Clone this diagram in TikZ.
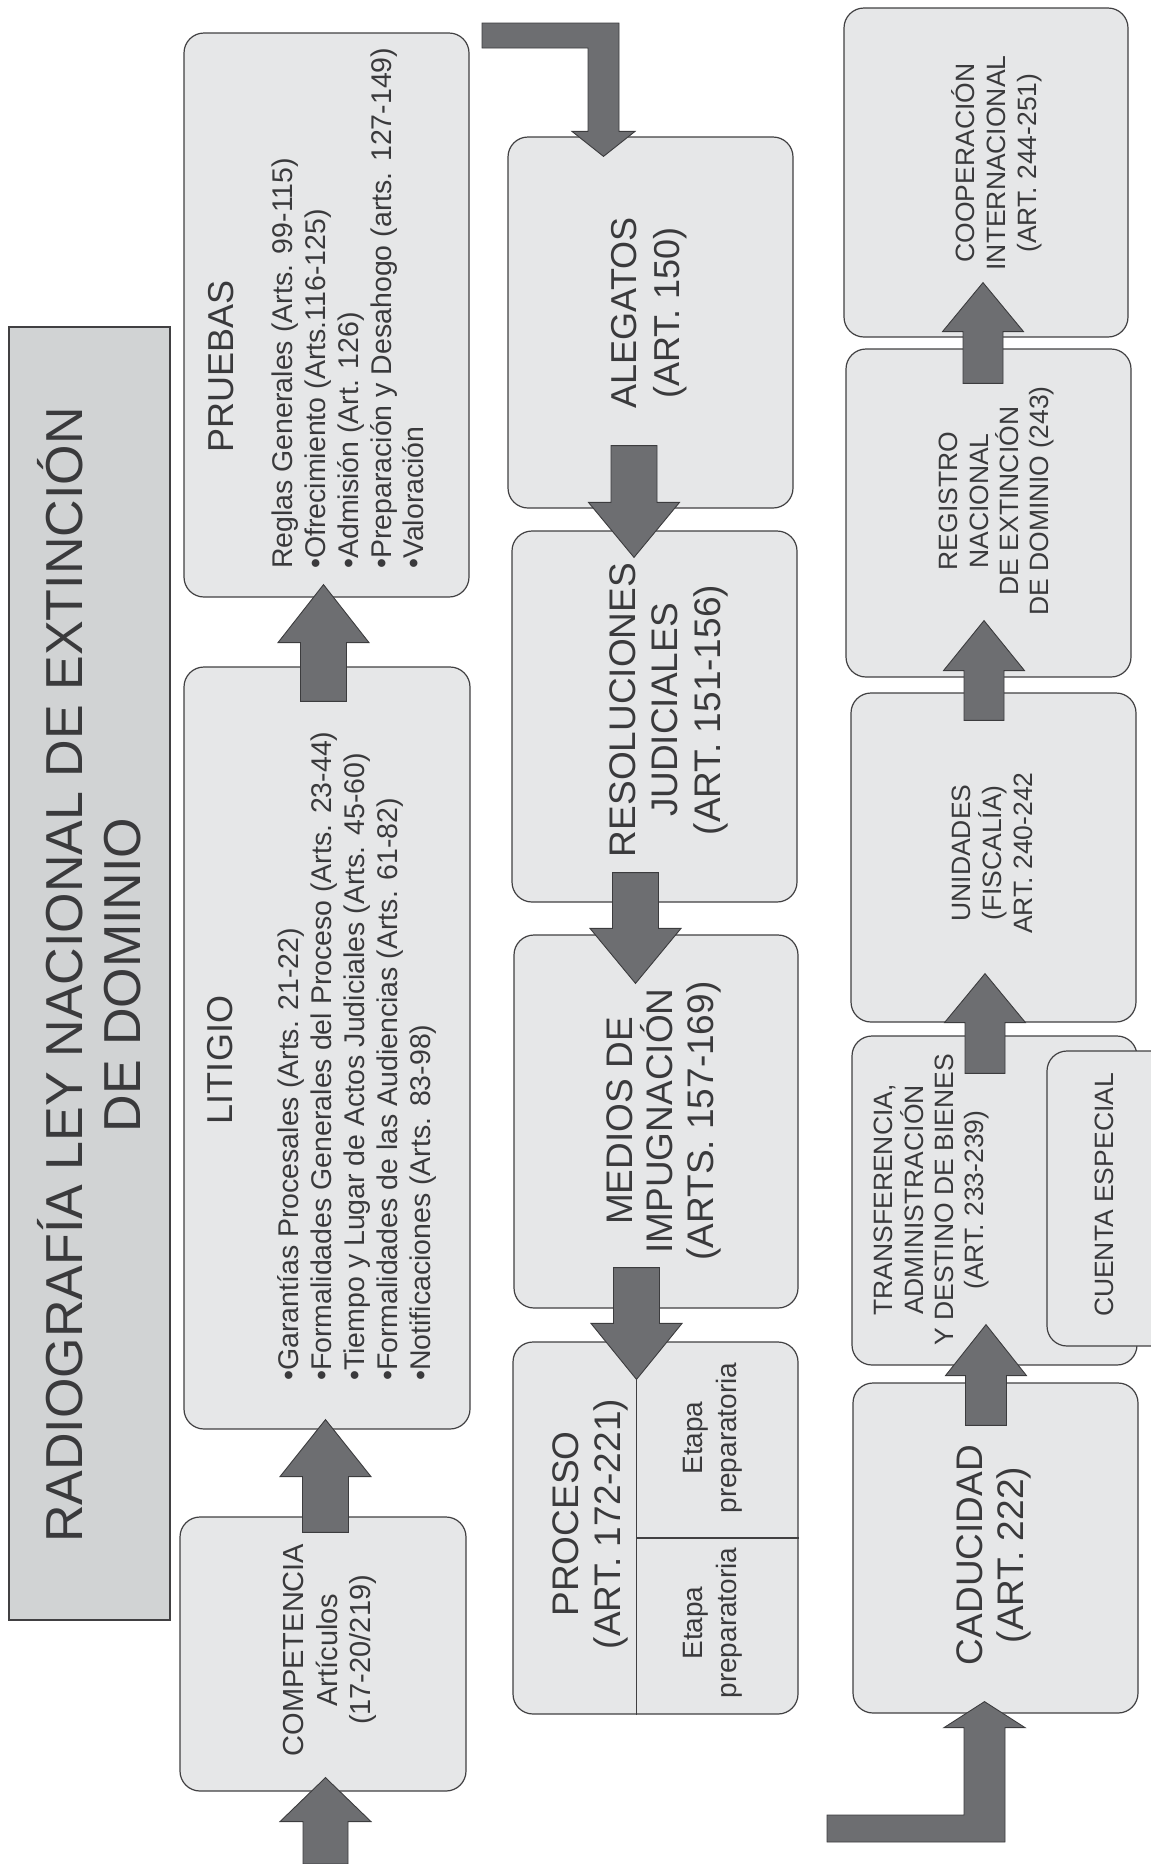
\documentclass[tikz,border=0pt]{standalone}
\usepackage{fontspec}
\setmainfont{Liberation Sans}
\usetikzlibrary{calc}
\definecolor{boxfill}{HTML}{E6E7E8}
\definecolor{titlefill}{HTML}{D1D3D4}
\definecolor{edgec}{HTML}{414042}
\definecolor{arrfill}{HTML}{6D6E71}
\definecolor{arredge}{HTML}{3C3C3E}
\definecolor{txtc}{HTML}{3A3A3C}
\newcommand{\myfs}[1]{\fontsize{#1}{#1}\selectfont}
% upward block arrow: tail, tip, shaft half width, head half width, head length
\newcommand{\upblk}[5]{\filldraw[blk] let \p1=(#1), \p2=(#2) in
  (\x2-#3,\y1) -- (\x2-#3,\y2-#5) -- (\x2-#4,\y2-#5) -- (\x2,\y2) -- (\x2+#4,\y2-#5) -- (\x2+#3,\y2-#5) -- (\x2+#3,\y1) -- cycle;}
\newcommand{\downblk}[5]{\filldraw[blk] let \p1=(#1), \p2=(#2) in
  (\x2-#3,\y1) -- (\x2-#3,\y2+#5) -- (\x2-#4,\y2+#5) -- (\x2,\y2) -- (\x2+#4,\y2+#5) -- (\x2+#3,\y2+#5) -- (\x2+#3,\y1) -- cycle;}
\tikzset{
  box/.style={draw=edgec, line width=1.2pt, fill=boxfill, rounded corners=20pt, inner sep=0pt},
  titlebox/.style={draw=edgec, line width=1.2pt, fill=titlefill, inner sep=0pt},
  blk/.style={fill=arrfill, draw=arredge, line width=0.9pt, line join=miter},
  divline/.style={draw=edgec, line width=1.2pt},
  lbl/.style={rotate=90, inner sep=0pt, text=txtc, anchor=base},
  lblw/.style={rotate=90, inner sep=0pt, text=txtc, anchor=base west},
  t52/.style={lbl, font=\myfs{52}},
  t36/.style={lbl, font=\myfs{36}},
  t37/.style={lbl, font=\myfs{37}},
  t29/.style={lbl, font=\myfs{29}},
  t28/.style={lbl, font=\myfs{28}},
  t26/.style={lbl, font=\myfs{26.5}},
  item/.style={lblw, font=\myfs{28.5}},
}
\begin{document}
\begin{tikzpicture}[x=1pt,y=-1pt]
\useasboundingbox (0,0) rectangle (1151,1864);
\clip (0,0) rectangle (1151,1864);

% ---------- boxes ----------
\node[titlebox, minimum width=161pt, minimum height=1293pt] (title) at (89.5,973.5) {};
\node[box, minimum width=285pt, minimum height=564pt] (pru) at (326.5,315) {};
\node[box, minimum width=286pt, minimum height=762pt] (lit) at (327,1048) {};
\node[box, minimum width=286pt, minimum height=274pt] (comp) at (323,1654) {};
\node[box, minimum width=285pt, minimum height=371pt] (ale) at (650.5,322.5) {};
\node[box, minimum width=285pt, minimum height=371pt] (res) at (654.5,716.5) {};
\node[box, minimum width=284pt, minimum height=373pt] (med) at (656,1121.5) {};
\node[box, minimum width=285pt, minimum height=372pt] (pro) at (655.5,1528) {};
\node[box, minimum width=284pt, minimum height=329pt] (coop) at (986,172.5) {};
\node[box, minimum width=285pt, minimum height=328pt] (reg) at (988.5,513) {};
\node[box, minimum width=285pt, minimum height=329pt] (uni) at (993.5,857.5) {};
\node[box, minimum width=285pt, minimum height=329pt] (tra) at (994.5,1200.5) {};
\node[box, minimum width=123pt, minimum height=295pt] (cue) at (1108.5,1198.5) {};
\node[box, minimum width=285pt, minimum height=330pt] (cad) at (995.5,1548) {};

% ---------- connector end points ----------
\coordinate (a1s) at (325.5,1864);
\coordinate (a1t) at ($(comp.south)+(2.5,-14)$);
\coordinate (a2s) at ($(comp.north)+(2.5,16)$);
\coordinate (a2t) at ($(lit.south)+(-1.5,-10)$);
\coordinate (a3s) at ($(lit.north)+(-3,35)$);
\coordinate (a3t) at ($(pru.south)+(-3,-13)$);

\coordinate (l1s) at (482,35.5);
\coordinate (l1t) at ($(ale.north)+(-47,20)$);
\coordinate (b1s) at ($(ale.south)+(-16.5,-63)$);
\coordinate (b1t) at ($(res.north)+(-20.5,27)$);
\coordinate (b2s) at ($(res.south)+(-19,-30)$);
\coordinate (b2t) at ($(med.north)+(-20.5,49)$);
\coordinate (b3s) at ($(med.south)+(-19.5,-41)$);
\coordinate (b3t) at ($(pro.north)+(-19,38)$);

\coordinate (l2s) at (827,1828.5);
\coordinate (l2t) at ($(cad.south)+(-11,-12)$);
\coordinate (c4s) at ($(cad.north)+(-9.5,43)$);
\coordinate (c4t) at ($(tra.south)+(-8.5,-41)$);
\coordinate (c3s) at ($(tra.north)+(-9.5,38)$);
\coordinate (c3t) at ($(uni.south)+(-8.5,-49)$);
\coordinate (c2s) at ($(uni.north)+(-9.5,28)$);
\coordinate (c2t) at ($(reg.south)+(-4.5,-57)$);
\coordinate (c1s) at ($(reg.north)+(-5.5,35)$);
\coordinate (c1t) at ($(coop.south)+(-3,-55)$);

% PROCESO dividers
\coordinate (pdb) at (b3t |- pro.south);
\coordinate (phr) at ($(pro.east)+(0,10)$);
\coordinate (phl) at (b3t |- phr);
\draw[divline] (b3t) -- (pdb);
\draw[divline] (phl) -- (phr);

% ---------- block arrows ----------
\upblk{a1s}{a1t}{22.5pt}{45.5pt}{44pt}
\upblk{a2s}{a2t}{23pt}{45.5pt}{57pt}
\upblk{a3s}{a3t}{23pt}{45.5pt}{58pt}

\filldraw[blk] let \p1=(l1s), \p2=(l1t) in
  (\x1,\y1+12.5pt) -- (\x2+15.5pt,\y1+12.5pt) -- (\x2+15.5pt,\y2+25pt) -- (\x2+31.5pt,\y2+25pt)
  -- (\x2,\y2) -- (\x2-31.5pt,\y2+25pt) -- (\x2-15.5pt,\y2+25pt) -- (\x2-15.5pt,\y1-12.5pt)
  -- (\x1,\y1-12.5pt) -- cycle;
\downblk{b1s}{b1t}{23pt}{45.5pt}{55pt}
\downblk{b2s}{b2t}{23pt}{45.5pt}{55pt}
\downblk{b3s}{b3t}{23pt}{45.5pt}{56pt}

\filldraw[blk] let \p1=(l2s), \p2=(l2t) in
  (\x1,\y1-13.5pt) -- (\x2+20.5pt,\y1-13.5pt) -- (\x2+20.5pt,\y2-26pt) -- (\x2+40.5pt,\y2-26pt)
  -- (\x2,\y2) -- (\x2-40.5pt,\y2-26pt) -- (\x2-20.5pt,\y2-26pt) -- (\x2-20.5pt,\y1+13.5pt)
  -- (\x1,\y1+13.5pt) -- cycle;
\upblk{c4s}{c4t}{20.5pt}{40.5pt}{51pt}
\upblk{c3s}{c3t}{20pt}{40.5pt}{49pt}
\upblk{c2s}{c2t}{20pt}{40.5pt}{50pt}
\upblk{c1s}{c1t}{20pt}{40.5pt}{49pt}

% ---------- texts ----------
\node[t52] (ti1) at (82,975) {RADIOGRAFÍA LEY NACIONAL DE EXTINCIÓN};
\node[t52] (ti2) at (140,975) {DE DOMINIO};

\node[t36] (pr0) at (233,366) {PRUEBAS};
\node[item] (pr1) at (292,569) {Reglas Generales (Arts. 99-115)};
\node[item] (pr2) at (325,569) {•Ofrecimiento (Arts.116-125)};
\node[item] (pr3) at (358,569) {•Admisión (Art. 126)};
\node[item] (pr4) at (391,569) {•Preparación y Desahogo (arts. 127-149)};
\node[item] (pr5) at (423,569) {•Valoración};

\node[t36] (li0) at (232,1060) {LITIGIO};
\node[item] (li1) at (298,1381) {•Garantías Procesales (Arts. 21-22)};
\node[item] (li2) at (331,1381) {•Formalidades Generales del Proceso (Arts. 23-44)};
\node[item] (li3) at (364,1381) {•Tiempo y Lugar de Actos Judiciales (Arts. 45-60)};
\node[item] (li4) at (397,1381) {•Formalidades de las Audiencias (Arts. 61-82)};
\node[item] (li5) at (430,1381) {•Notificaciones (Arts. 83-98)};

\node[t29] (co1) at (303,1650) {COMPETENCIA};
\node[t29] (co2) at (337,1650) {Artículos};
\node[t29] (co3) at (370,1650) {(17-20/219)};

\node[t36] (al1) at (636,313) {ALEGATOS};
\node[t36] (al2) at (679,313) {(ART. 150)};

\node[t37] (re1) at (635,710) {RESOLUCIONES};
\node[t37] (re2) at (677,710) {JUDICIALES};
\node[t37] (re3) at (720,710) {(ART. 151-156)};

\node[t37] (me1) at (632,1121) {MEDIOS DE};
\node[t37] (me2) at (672,1121) {IMPUGNACIÓN};
\node[t37] (me3) at (713,1121) {(ARTS. 157-169)};

\node[t37] (po1) at (578,1524) {PROCESO};
\node[t37] (po2) at (620,1524) {(ART. 172-221)};
\node[t28] (et1) at (702,1438) {Etapa};
\node[t28] (et2) at (736,1438) {preparatoria};
\node[t28] (et3) at (702,1623) {Etapa};
\node[t28] (et4) at (736,1623) {preparatoria};

\node[t26] (cp1) at (974,163) {COOPERACIÓN};
\node[t26] (cp2) at (1005,163) {INTERNACIONAL};
\node[t26] (cp3) at (1036,163) {(ART. 244-251)};

\node[t26] (rg1) at (957,501) {REGISTRO};
\node[t26] (rg2) at (988,501) {NACIONAL};
\node[t26] (rg3) at (1018,501) {DE EXTINCIÓN};
\node[t26] (rg4) at (1048,501) {DE DOMINIO (243)};

\node[t26] (un1) at (970,853) {UNIDADES};
\node[t26] (un2) at (1001,853) {(FISCALÍA)};
\node[t26] (un3) at (1032,853) {ART. 240-242};

\node[t26] (tr1) at (892,1200) {TRANSFERENCIA,};
\node[t26] (tr2) at (923,1200) {ADMINISTRACIÓN};
\node[t26] (tr3) at (953,1200) {Y DESTINO DE BIENES};
\node[t26] (tr4) at (983,1200) {(ART. 233-239)};

\node[t26] (cu1) at (1113,1195) {CUENTA ESPECIAL};

\node[t37] (ca1) at (982,1555) {CADUCIDAD};
\node[t37] (ca2) at (1023,1555) {(ART. 222)};
\end{tikzpicture}
\end{document}
